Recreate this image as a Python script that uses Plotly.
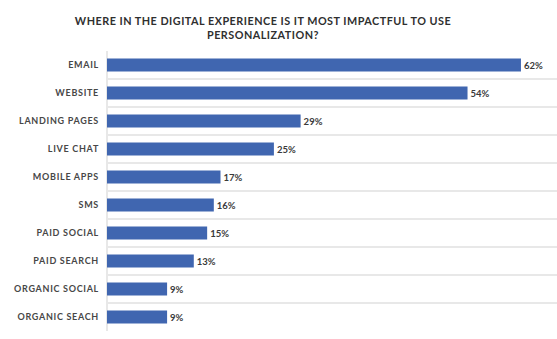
import plotly.graph_objects as go

# Survey results: where personalization has the most impact
channels = ["EMAIL", "WEBSITE", "LANDING PAGES", "LIVE CHAT", "MOBILE APPS",
            "SMS", "PAID SOCIAL", "PAID SEARCH", "ORGANIC SOCIAL", "ORGANIC SEACH"]
shares = [62, 54, 29, 25, 17, 16, 15, 13, 9, 9]
title_text = "WHERE IN THE DIGITAL EXPERIENCE IS IT MOST IMPACTFUL TO USE<br>PERSONALIZATION?"

BAR = "#4066B0"
GRID = "#E8E8E8"

fig = go.Figure(go.Bar(
    x=shares,
    y=channels,
    orientation="h",
    marker=dict(color=BAR, line=dict(width=0)),
    width=0.47,
    text=[f"{v}%" for v in shares],
    texttemplate="%{text}",
    textposition="outside",
    cliponaxis=False,
    textfont=dict(family="Lato", size=9.5, color="#3A3A3A", weight="bold"),
    hoverinfo="skip",
))

fig.update_layout(
    width=557, height=339,
    margin=dict(l=107, r=0, t=51, b=8),
    paper_bgcolor="white", plot_bgcolor="white",
    showlegend=False,
    title=dict(
        text=title_text,
        x=263 / 557, xref="container", xanchor="center",
        y=1 - 25 / 339, yref="container", yanchor="top",
        font=dict(family="Lato", size=10.8, color="#2F2F2F", weight="bold"),
    ),
    xaxis=dict(
        range=[0, 67.4],
        showgrid=False, zeroline=True, zerolinecolor=GRID, zerolinewidth=1.5,
        showticklabels=False, ticks="",
    ),
    yaxis=dict(
        autorange="reversed",
        type="category",
        tickson="boundaries",
        showgrid=True, gridcolor=GRID, gridwidth=1.5,
        ticks="", ticklabelstandoff=7,
        tickfont=dict(family="Lato", size=9, color="#474747", weight="bold"),
    ),
)

# Wide tracking on the uppercase labels and the title
post = """
var gd = document.getElementById('{plot_id}');
function track(){
  gd.querySelectorAll('.ytick text').forEach(function(t){ t.style.letterSpacing = '0.7px'; });
  gd.querySelectorAll('.gtitle').forEach(function(t){ t.style.letterSpacing = '0.5px'; });
}
track();
gd.on('plotly_afterplot', track);
"""

fig.write_html("out.html", post_script=post)
